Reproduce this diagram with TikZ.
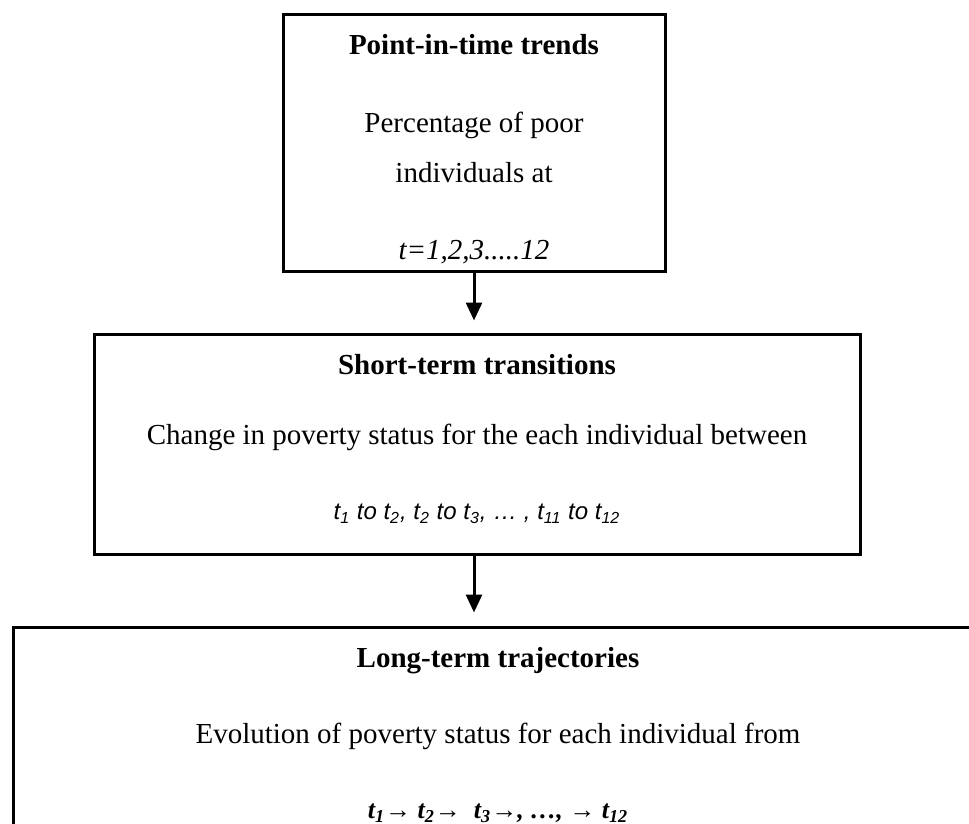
\documentclass[tikz,border=0pt]{standalone}
\usepackage{fontspec}
\setmainfont{Liberation Serif}
\setsansfont{Liberation Sans}
\usetikzlibrary{arrows.meta,positioning}

\begin{document}
\begin{tikzpicture}[x=0.5pt,y=-0.5pt,>={Triangle[width=8pt,length=9pt]},
  font=\fontsize{14.5pt}{17.4pt}\selectfont]
  \path[use as bounding box,fill=white] (0,0) rectangle (969,824);
  \clip (0,0) rectangle (969,824);
  \node[draw,line width=1.5pt,inner sep=0pt,
        minimum width=191pt,minimum height=128pt,align=center]
        (trends) at (474,143)
        {\rule{0pt}{16pt}\textbf{Point-in-time trends}\\[21.6pt]
         Percentage of poor\\[7.6pt]
         individuals at\\[21.1pt]
         \textit{t=1,2,3.....12}};
  \node[draw,line width=1.5pt,inner sep=0pt,
        minimum width=383pt,minimum height=110pt,align=center]
        (transitions) at (477,444)
        {\textbf{Short-term transitions}\\[17.6pt]
         Change in poverty status for the each individual between\\[20.1pt]
         {\fontsize{12pt}{15pt}\selectfont\sffamily\itshape
          t\textsubscript{1} to t\textsubscript{2}, t\textsubscript{2} to t\textsubscript{3}, \dots\ , t\textsubscript{11} to t\textsubscript{12}}\rule[-7pt]{0pt}{7pt}};
  \node[draw,line width=1.5pt,inner sep=0pt,
        minimum width=485pt,minimum height=108pt,align=center]
        (trajectories) at (498,735)
        {\textbf{Long-term trajectories}\\[20.6pt]
         Evolution of poverty status for each individual from\\[20pt]
         {\fontsize{13pt}{15pt}\selectfont\bfseries\itshape
          t\textsubscript{1}{\normalfont\fontsize{13pt}{13pt}\selectfont→}\
          t\textsubscript{2}{\normalfont\fontsize{13pt}{13pt}\selectfont→}\ \
          t\textsubscript{3}{\normalfont\fontsize{13pt}{13pt}\selectfont→}, \dots,\
          {\normalfont\fontsize{13pt}{13pt}\selectfont→}\ t\textsubscript{12}}};
  \draw[->,line width=1.5pt,shorten >=6pt] (trends.south) -- (trends.south |- transitions.north);
  \draw[->,line width=1.5pt,shorten >=6.5pt] (trends.south |- transitions.south) -- (trends.south |- trajectories.north);
\end{tikzpicture}
\end{document}
